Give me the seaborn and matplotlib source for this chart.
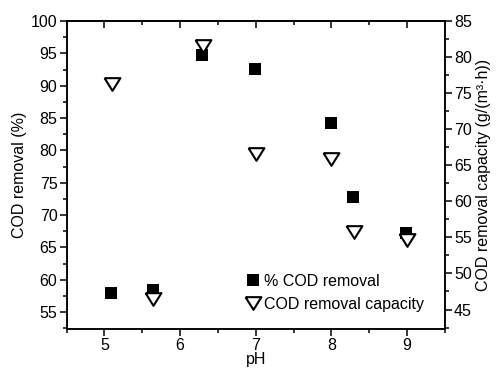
import matplotlib
matplotlib.use("Agg")
import matplotlib.pyplot as plt
from matplotlib.ticker import MultipleLocator
from matplotlib.lines import Line2D
import seaborn as sns
import pandas as pd

sns.set_theme(style="white")
plt.rcParams['font.family'] = ['Liberation Sans', 'DejaVu Sans']
plt.rcParams['text.color'] = 'black'
plt.rcParams['axes.labelcolor'] = 'black'
plt.rcParams['xtick.color'] = 'black'
plt.rcParams['ytick.color'] = 'black'

ph_removal = [5.09, 5.64, 6.29, 6.99, 7.99, 8.28, 8.99]
cod_removal = [58.0, 58.5, 94.8, 92.6, 84.3, 72.8, 67.3]
ph_capacity = [5.10, 5.64, 6.30, 7.00, 8.00, 8.30, 9.00]
cod_capacity = [76.2, 46.4, 81.5, 66.5, 65.9, 55.7, 54.7]

df1 = pd.DataFrame({"pH": ph_removal, "v": cod_removal})
df2 = pd.DataFrame({"pH": ph_capacity, "v": cod_capacity})

tri = [(-1, 0.8), (1, 0.8), (0, -0.8), (-1, 0.8)]

fig = plt.figure(figsize=(5.02, 3.73), dpi=100)
ax = fig.add_axes([0.1325, 0.118, 0.754, 0.8257])
ax2 = ax.twinx()

sns.scatterplot(data=df1, x="pH", y="v", ax=ax, marker="s", s=78, color="black",
                linewidth=0, legend=False, zorder=3)
sns.scatterplot(data=df2, x="pH", y="v", ax=ax2, marker=tri, s=130, facecolor="white",
                edgecolor="black", linewidth=1.5, legend=False, zorder=4)

ax.set_xlim(4.5, 9.5)
ax.set_ylim(52.4, 100)
ax2.set_ylim(42.3, 85)

fs = 11.5
ax.set_xlabel("pH", fontsize=fs, labelpad=-1, color='black')
ax.set_ylabel("COD removal (%)", fontsize=fs, labelpad=3, color='black')
ax2.set_ylabel("COD removal capacity (g/(m³·h))", fontsize=fs, labelpad=3, color='black')

ax.xaxis.set_major_locator(MultipleLocator(1))
ax.xaxis.set_minor_locator(MultipleLocator(0.5))
ax.yaxis.set_major_locator(MultipleLocator(5))
ax.yaxis.set_minor_locator(MultipleLocator(2.5))
ax2.yaxis.set_major_locator(MultipleLocator(5))
ax2.yaxis.set_minor_locator(MultipleLocator(2.5))

ax.tick_params(axis='both', which='major', direction='out', length=5, width=1.1,
               labelsize=fs, color='black', labelcolor='black', pad=1.5, bottom=True, left=True)
ax.tick_params(axis='both', which='minor', direction='out', length=3, width=1.1,
               color='black', bottom=True, left=True)
ax2.tick_params(axis='y', which='major', direction='out', length=5, width=1.1,
                labelsize=fs, color='black', labelcolor='black', pad=1.5, right=True)
ax2.tick_params(axis='y', which='minor', direction='out', length=3, width=1.1,
                color='black', right=True)

top = ax.secondary_xaxis('top')
top.xaxis.set_major_locator(MultipleLocator(1))
top.xaxis.set_minor_locator(MultipleLocator(0.5))
top.tick_params(axis='x', which='major', direction='in', length=5, width=1.1, labeltop=False, color='black')
top.tick_params(axis='x', which='minor', direction='in', length=3, width=1.1, color='black')
top.spines['top'].set_linewidth(1.1)

for a in (ax, ax2):
    for sp in a.spines.values():
        sp.set_color('black')
        sp.set_linewidth(1.1)

handles = [
    Line2D([], [], marker='s', color='black', linestyle='none', markersize=8.8,
           markeredgewidth=0, label='% COD removal'),
    Line2D([], [], marker=tri, markerfacecolor='white', markeredgecolor='black',
           linestyle='none', markersize=11.4, markeredgewidth=1.5, label='COD removal capacity'),
]
ax.legend(handles=handles, loc='upper left', bbox_to_anchor=(246.5 / 502, 1 - 274 / 373),
          bbox_transform=fig.transFigure, frameon=False, fontsize=fs, labelcolor='black',
          handlelength=0.8, handletextpad=0.3, labelspacing=0.5, borderpad=0, borderaxespad=0)

fig.savefig("out.png", dpi=100)
